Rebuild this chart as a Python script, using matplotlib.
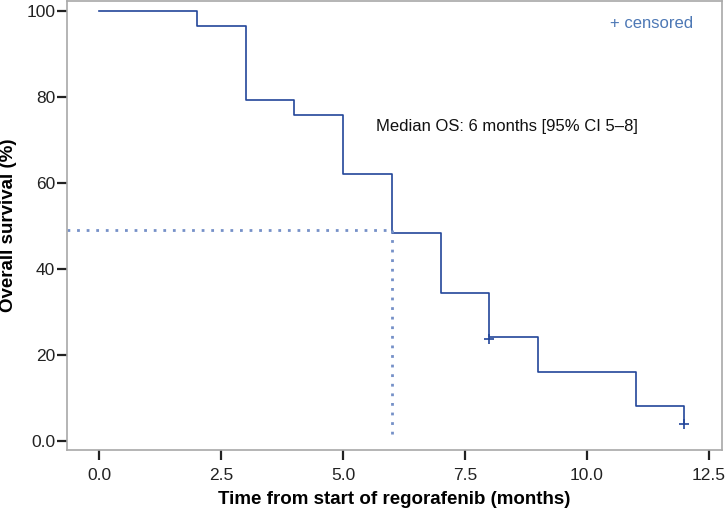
import matplotlib.pyplot as plt
from matplotlib.ticker import FixedLocator, FixedFormatter

# Kaplan-Meier steps (months, % surviving)
times = [0, 2, 3, 4, 5, 6, 7, 8, 9, 11, 12]
surv = [100, 96.6, 79.3, 75.9, 62.1, 48.3, 34.5, 24.1, 16.1, 8.1, 4.0]
censor_t = [8, 12]
censor_s = [23.8, 4.0]

median_t = 6
median_s = 49.0

y_ticks = [0, 20, 40, 60, 80, 100]
y_labels = ["0.0", "20", "40", "60", "80", "100"]
x_ticks = [0.0, 2.5, 5.0, 7.5, 10.0, 12.5]
x_labels = ["0.0", "2.5", "5.0", "7.5", "10.0", "12.5"]

plt.rcParams["font.family"] = ["Liberation Sans", "DejaVu Sans"]

fig = plt.figure(figsize=(7.25, 5.12), dpi=100)
ax = fig.add_axes([0.0924, 0.121, 0.9035, 0.877])

line_col = "#23469a"
dot_col = "#7590c8"

ax.step(times, surv, where="post", color=line_col, lw=1.2)
ax.plot(censor_t, censor_s, linestyle="none", marker="+", ms=7, mew=1.2,
        color=line_col)

xmin, xmax = -0.66, 12.77
ymin, ymax = -2.1, 102.3
ax.plot([xmin, median_t], [median_s, median_s], color=dot_col, lw=2.0,
        linestyle=(0, (1, 2.45)))
ax.plot([median_t, median_t], [median_s, 0.2], color=dot_col, lw=2.0,
        linestyle=(0, (1, 2.45)))

ax.text(5.68, 73.1, "Median OS: 6 months [95% CI 5\u20138]", fontsize=12,
        va="center", ha="left", color="#111111")
ax.text(12.17, 97.0, "+ censored", fontsize=12, va="center", ha="right",
        color="#4d78b5")

ax.set_xlim(xmin, xmax)
ax.set_ylim(ymin, ymax)
ax.xaxis.set_major_locator(FixedLocator(x_ticks))
ax.xaxis.set_major_formatter(FixedFormatter(x_labels))
ax.yaxis.set_major_locator(FixedLocator(y_ticks))
ax.yaxis.set_major_formatter(FixedFormatter(y_labels))
ax.tick_params(axis="both", direction="out", length=7, width=1.6,
               colors="#222222", labelsize=12.5)
ax.tick_params(axis="x", pad=6)
ax.tick_params(axis="y", pad=1.5)

for s in ax.spines.values():
    s.set_color("#a8a8a8")
    s.set_linewidth(1.2)

ax.set_xlabel("Time from start of regorafenib (months)", fontsize=13.5,
              fontweight="bold")
ax.set_ylabel("Overall survival (%)", fontsize=13.5, fontweight="bold")
ax.xaxis.set_label_coords(0.5, -0.092)
ax.yaxis.set_label_coords(-0.076, 0.5)

fig.savefig("out.png", dpi=100)
